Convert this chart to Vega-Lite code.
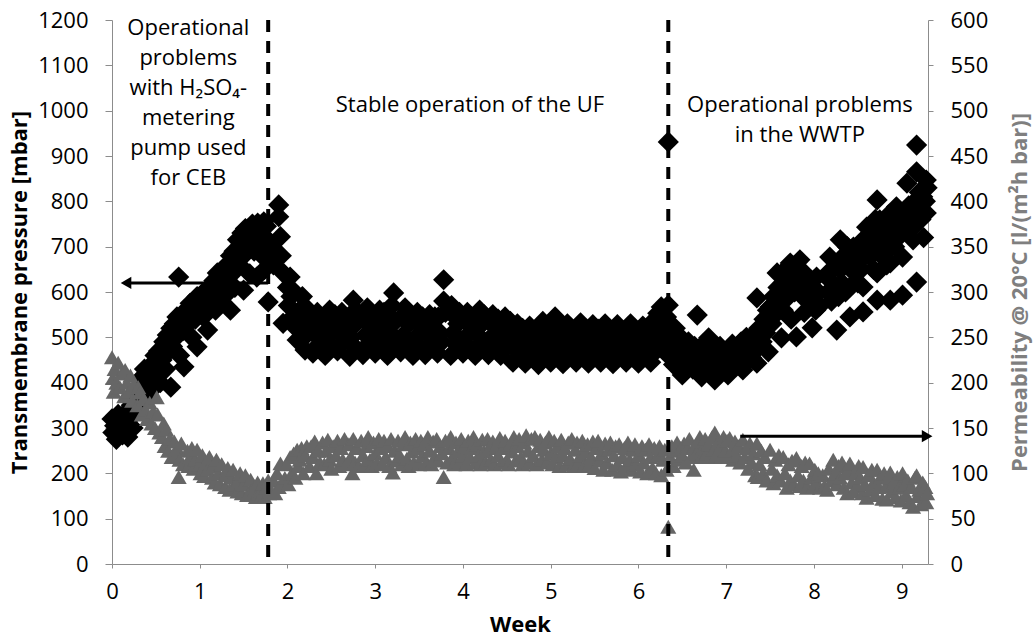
{
"$schema":"https://vega.github.io/schema/vega-lite/v6.json",
"width":816,"height":544,
"autosize":{"type":"none"},
"padding":{"left":112,"top":20,"right":107,"bottom":74},
"background":"white",
"config":{"view":{"stroke":null},"font":"Open Sans","axis":{"grid":false,"domainColor":"#8c8c8c","tickColor":"#8c8c8c","labelFont":"Open Sans","titleFont":"Open Sans","labelColor":"#000000","titleColor":"#000000","labelFontSize":22,"titleFontSize":22,"titleFontWeight":"bold"}},
"datasets":{
"tmp":[
{"w":0,"t":320},{"w":0.01,"t":290},{"w":0.03,"t":305},{"w":0.05,"t":275},{"w":0.07,"t":330},{"w":0.09,"t":295},{"w":0.11,"t":315},{"w":0.12,"t":285},
{"w":0.14,"t":300},{"w":0.16,"t":335},{"w":0.18,"t":280},{"w":0.2,"t":320},{"w":0.22,"t":350},{"w":0.24,"t":300},{"w":0.26,"t":365},
{"w":0.29,"t":340},{"w":0.31,"t":380},{"w":0.33,"t":410},{"w":0.35,"t":360},{"w":0.37,"t":430},{"w":0.39,"t":395},{"w":0.41,"t":420},
{"w":0.43,"t":380},{"w":0.45,"t":440},{"w":0.47,"t":410},{"w":0.49,"t":460},{"w":0.51,"t":430},{"w":0.53,"t":470},{"w":0.55,"t":400},
{"w":0.57,"t":450},{"w":0.59,"t":490},{"w":0.61,"t":430},{"w":0.63,"t":505},{"w":0.65,"t":470},{"w":0.67,"t":390},{"w":0.67,"t":520},{"w":0.69,"t":480},
{"w":0.71,"t":530},{"w":0.73,"t":500},{"w":0.74,"t":545},{"w":0.76,"t":633},{"w":0.77,"t":460},{"w":0.79,"t":550},{"w":0.81,"t":515},{"w":0.82,"t":435},
{"w":0.86,"t":560},{"w":0.87,"t":530},{"w":0.89,"t":575},{"w":0.91,"t":500},{"w":0.93,"t":560},{"w":0.95,"t":540},{"w":0.97,"t":479},{"w":0.97,"t":590},
{"w":1.0,"t":570},{"w":1.02,"t":595},{"w":1.04,"t":545},{"w":1.06,"t":600},{"w":1.08,"t":580},{"w":1.09,"t":516},{"w":1.11,"t":610},
{"w":1.14,"t":590},{"w":1.16,"t":625},{"w":1.18,"t":560},{"w":1.2,"t":642},{"w":1.22,"t":610},{"w":1.24,"t":580},{"w":1.26,"t":650},
{"w":1.29,"t":620},{"w":1.31,"t":660},{"w":1.33,"t":600},{"w":1.35,"t":560},{"w":1.35,"t":680},{"w":1.37,"t":640},{"w":1.39,"t":690},{"w":1.4,"t":610},
{"w":1.43,"t":715},{"w":1.45,"t":660},{"w":1.46,"t":700},{"w":1.48,"t":730},{"w":1.5,"t":604},{"w":1.5,"t":680},{"w":1.52,"t":740},{"w":1.54,"t":700},
{"w":1.57,"t":640},{"w":1.58,"t":720},{"w":1.6,"t":750},{"w":1.62,"t":690},{"w":1.64,"t":735},{"w":1.65,"t":633},{"w":1.66,"t":752},{"w":1.68,"t":710},
{"w":1.7,"t":740},{"w":1.71,"t":680},{"w":1.73,"t":755},{"w":1.74,"t":650},{"w":1.75,"t":720},{"w":1.76,"t":745},{"w":1.78,"t":578},{"w":1.77,"t":690},
{"w":1.82,"t":700},{"w":1.84,"t":660},{"w":1.9,"t":792},{"w":1.9,"t":766},{"w":1.92,"t":722},{"w":1.93,"t":680},{"w":1.95,"t":531},{"w":1.96,"t":640},
{"w":2.0,"t":610},{"w":2.01,"t":570},{"w":2.03,"t":633},{"w":2.04,"t":590},{"w":2.06,"t":545},{"w":2.08,"t":600},{"w":2.1,"t":520},{"w":2.11,"t":494},
{"w":2.14,"t":560},{"w":2.15,"t":530},{"w":2.17,"t":590},{"w":2.19,"t":500},{"w":2.2,"t":472},{"w":2.22,"t":545},{"w":2.24,"t":560},{"w":2.25,"t":520},
{"w":2.29,"t":465},{"w":2.3,"t":530},{"w":2.32,"t":505},{"w":2.34,"t":555},{"w":2.36,"t":485},{"w":2.38,"t":540},{"w":2.4,"t":520},
{"w":2.43,"t":460},{"w":2.44,"t":545},{"w":2.46,"t":500},{"w":2.48,"t":560},{"w":2.5,"t":480},{"w":2.52,"t":525},{"w":2.54,"t":550},
{"w":2.57,"t":470},{"w":2.58,"t":535},{"w":2.6,"t":510},{"w":2.62,"t":555},{"w":2.64,"t":490},{"w":2.66,"t":540},{"w":2.68,"t":520},
{"w":2.71,"t":458},{"w":2.72,"t":550},{"w":2.73,"t":500},{"w":2.75,"t":582},{"w":2.76,"t":480},{"w":2.78,"t":530},{"w":2.8,"t":555},
{"w":2.86,"t":462},{"w":2.87,"t":540},{"w":2.89,"t":505},{"w":2.91,"t":565},{"w":2.92,"t":485},{"w":2.94,"t":525},{"w":2.96,"t":550},
{"w":3.0,"t":465},{"w":3.01,"t":545},{"w":3.03,"t":500},{"w":3.05,"t":560},{"w":3.06,"t":480},{"w":3.08,"t":530},{"w":3.1,"t":555},
{"w":3.14,"t":460},{"w":3.15,"t":550},{"w":3.17,"t":510},{"w":3.19,"t":570},{"w":3.2,"t":490},{"w":3.21,"t":598},{"w":3.23,"t":535},
{"w":3.29,"t":468},{"w":3.3,"t":545},{"w":3.32,"t":505},{"w":3.34,"t":565},{"w":3.36,"t":485},{"w":3.38,"t":530},{"w":3.4,"t":550},
{"w":3.43,"t":460},{"w":3.44,"t":540},{"w":3.46,"t":500},{"w":3.48,"t":555},{"w":3.5,"t":480},{"w":3.52,"t":525},{"w":3.54,"t":545},
{"w":3.57,"t":462},{"w":3.58,"t":535},{"w":3.6,"t":505},{"w":3.62,"t":550},{"w":3.64,"t":485},{"w":3.66,"t":520},{"w":3.68,"t":545},
{"w":3.71,"t":465},{"w":3.72,"t":545},{"w":3.74,"t":510},{"w":3.78,"t":627},{"w":3.78,"t":580},{"w":3.76,"t":490},{"w":3.8,"t":555},
{"w":3.86,"t":460},{"w":3.87,"t":570},{"w":3.89,"t":510},{"w":3.91,"t":545},{"w":3.92,"t":485},{"w":3.94,"t":530},{"w":3.96,"t":555},
{"w":4.0,"t":465},{"w":4.01,"t":540},{"w":4.03,"t":500},{"w":4.05,"t":555},{"w":4.06,"t":480},{"w":4.08,"t":525},{"w":4.1,"t":545},
{"w":4.14,"t":460},{"w":4.15,"t":545},{"w":4.17,"t":505},{"w":4.19,"t":560},{"w":4.2,"t":485},{"w":4.22,"t":530},{"w":4.24,"t":550},
{"w":4.29,"t":462},{"w":4.3,"t":535},{"w":4.32,"t":500},{"w":4.34,"t":550},{"w":4.36,"t":480},{"w":4.38,"t":520},{"w":4.4,"t":540},
{"w":4.43,"t":460},{"w":4.44,"t":530},{"w":4.46,"t":495},{"w":4.48,"t":545},{"w":4.5,"t":480},{"w":4.52,"t":515},{"w":4.54,"t":535},
{"w":4.57,"t":445},{"w":4.58,"t":510},{"w":4.6,"t":480},{"w":4.62,"t":530},{"w":4.64,"t":465},{"w":4.66,"t":500},{"w":4.68,"t":520},
{"w":4.71,"t":443},{"w":4.72,"t":515},{"w":4.74,"t":475},{"w":4.76,"t":525},{"w":4.78,"t":460},{"w":4.8,"t":495},{"w":4.82,"t":510},
{"w":4.86,"t":440},{"w":4.87,"t":520},{"w":4.89,"t":480},{"w":4.91,"t":535},{"w":4.92,"t":462},{"w":4.94,"t":500},{"w":4.96,"t":515},
{"w":5.0,"t":445},{"w":5.01,"t":510},{"w":5.03,"t":478},{"w":5.05,"t":545},{"w":5.06,"t":460},{"w":5.08,"t":495},{"w":5.1,"t":520},
{"w":5.14,"t":442},{"w":5.15,"t":515},{"w":5.17,"t":480},{"w":5.19,"t":530},{"w":5.2,"t":465},{"w":5.22,"t":500},{"w":5.24,"t":512},
{"w":5.29,"t":445},{"w":5.3,"t":520},{"w":5.32,"t":482},{"w":5.34,"t":532},{"w":5.36,"t":462},{"w":5.38,"t":498},{"w":5.4,"t":515},
{"w":5.43,"t":443},{"w":5.44,"t":512},{"w":5.46,"t":478},{"w":5.48,"t":528},{"w":5.5,"t":460},{"w":5.52,"t":495},{"w":5.54,"t":518},
{"w":5.57,"t":445},{"w":5.58,"t":515},{"w":5.6,"t":480},{"w":5.62,"t":530},{"w":5.64,"t":465},{"w":5.66,"t":500},{"w":5.68,"t":512},
{"w":5.71,"t":442},{"w":5.72,"t":518},{"w":5.74,"t":478},{"w":5.76,"t":528},{"w":5.78,"t":462},{"w":5.8,"t":498},{"w":5.82,"t":515},
{"w":5.86,"t":445},{"w":5.87,"t":512},{"w":5.89,"t":480},{"w":5.91,"t":530},{"w":5.92,"t":465},{"w":5.94,"t":500},{"w":5.96,"t":515},
{"w":6.0,"t":443},{"w":6.01,"t":515},{"w":6.03,"t":478},{"w":6.05,"t":525},{"w":6.06,"t":460},{"w":6.08,"t":500},{"w":6.1,"t":518},
{"w":6.14,"t":445},{"w":6.15,"t":520},{"w":6.17,"t":485},{"w":6.19,"t":540},{"w":6.2,"t":470},{"w":6.22,"t":553},{"w":6.24,"t":510},
{"w":6.26,"t":567},{"w":6.27,"t":495},{"w":6.29,"t":530},{"w":6.3,"t":480},{"w":6.32,"t":545},{"w":6.34,"t":931},{"w":6.34,"t":571},{"w":6.34,"t":460},
{"w":6.36,"t":500},{"w":6.38,"t":470},{"w":6.4,"t":440},{"w":6.42,"t":520},{"w":6.44,"t":485},{"w":6.46,"t":455},{"w":6.48,"t":500},{"w":6.5,"t":417},
{"w":6.53,"t":470},{"w":6.55,"t":445},{"w":6.57,"t":490},{"w":6.6,"t":460},{"w":6.62,"t":430},{"w":6.64,"t":480},{"w":6.67,"t":549},{"w":6.66,"t":450},
{"w":6.69,"t":470},{"w":6.71,"t":440},{"w":6.72,"t":413},{"w":6.74,"t":485},{"w":6.76,"t":455},{"w":6.78,"t":430},{"w":6.8,"t":499},{"w":6.82,"t":465},
{"w":6.84,"t":440},{"w":6.86,"t":475},{"w":6.87,"t":406},{"w":6.89,"t":455},{"w":6.91,"t":430},{"w":6.93,"t":480},{"w":6.95,"t":445},{"w":6.97,"t":465},
{"w":6.99,"t":440},{"w":7.02,"t":417},{"w":7.03,"t":470},{"w":7.05,"t":450},{"w":7.07,"t":485},{"w":7.09,"t":435},{"w":7.11,"t":460},
{"w":7.13,"t":475},{"w":7.15,"t":445},{"w":7.17,"t":490},{"w":7.19,"t":428},{"w":7.21,"t":465},{"w":7.23,"t":500},{"w":7.25,"t":450},
{"w":7.27,"t":480},{"w":7.29,"t":455},{"w":7.31,"t":505},{"w":7.33,"t":470},{"w":7.35,"t":443},{"w":7.35,"t":587},{"w":7.37,"t":520},{"w":7.39,"t":516},
{"w":7.41,"t":490},{"w":7.43,"t":540},{"w":7.45,"t":510},{"w":7.47,"t":560},{"w":7.48,"t":468},{"w":7.5,"t":567},{"w":7.52,"t":530},{"w":7.54,"t":590},
{"w":7.56,"t":550},{"w":7.58,"t":642},{"w":7.59,"t":610},{"w":7.61,"t":580},{"w":7.63,"t":499},{"w":7.63,"t":640},{"w":7.65,"t":560},{"w":7.66,"t":600},
{"w":7.68,"t":650},{"w":7.7,"t":620},{"w":7.71,"t":590},{"w":7.73,"t":664},{"w":7.74,"t":540},{"w":7.76,"t":630},{"w":7.78,"t":600},{"w":7.8,"t":501},
{"w":7.82,"t":650},{"w":7.84,"t":671},{"w":7.85,"t":620},{"w":7.87,"t":590},{"w":7.89,"t":555},{"w":7.9,"t":640},{"w":7.92,"t":633},{"w":7.94,"t":610},
{"w":7.96,"t":580},{"w":7.98,"t":521},{"w":8.0,"t":589},{"w":8.02,"t":560},{"w":8.03,"t":633},{"w":8.05,"t":600},{"w":8.07,"t":570},
{"w":8.15,"t":640},{"w":8.16,"t":600},{"w":8.18,"t":677},{"w":8.18,"t":626},{"w":8.2,"t":580},{"w":8.22,"t":650},{"w":8.24,"t":610},{"w":8.26,"t":516},
{"w":8.27,"t":660},{"w":8.28,"t":590},{"w":8.3,"t":715},{"w":8.3,"t":649},{"w":8.32,"t":620},{"w":8.34,"t":680},{"w":8.36,"t":600},{"w":8.38,"t":700},
{"w":8.41,"t":545},{"w":8.41,"t":611},{"w":8.43,"t":660},{"w":8.45,"t":699},{"w":8.47,"t":640},{"w":8.49,"t":671},{"w":8.5,"t":620},{"w":8.52,"t":690},
{"w":8.54,"t":650},{"w":8.56,"t":556},{"w":8.56,"t":611},{"w":8.56,"t":715},{"w":8.58,"t":680},{"w":8.6,"t":743},{"w":8.62,"t":700},{"w":8.64,"t":677},
{"w":8.66,"t":720},{"w":8.68,"t":650},{"w":8.7,"t":760},{"w":8.72,"t":582},{"w":8.72,"t":642},{"w":8.72,"t":803},{"w":8.74,"t":700},{"w":8.75,"t":759},
{"w":8.77,"t":680},{"w":8.79,"t":737},{"w":8.81,"t":720},{"w":8.83,"t":660},{"w":8.85,"t":770},{"w":8.87,"t":582},{"w":8.87,"t":664},{"w":8.87,"t":699},
{"w":8.9,"t":740},{"w":8.92,"t":700},{"w":8.94,"t":788},{"w":8.96,"t":720},{"w":8.98,"t":752},{"w":9.01,"t":593},{"w":9.01,"t":677},{"w":9.02,"t":760},
{"w":9.04,"t":740},{"w":9.06,"t":840},{"w":9.08,"t":790},{"w":9.1,"t":781},{"w":9.12,"t":740},{"w":9.13,"t":715},{"w":9.15,"t":800},{"w":9.17,"t":622},{"w":9.17,"t":865},{"w":9.17,"t":924},
{"w":9.19,"t":780},{"w":9.2,"t":820},{"w":9.22,"t":760},{"w":9.24,"t":810},{"w":9.25,"t":720},{"w":9.27,"t":800},{"w":9.28,"t":774},{"w":9.28,"t":847},{"w":9.29,"t":830}
],
"perm":[
{"w":0,"p":228},{"w":0.01,"p":205},{"w":0.02,"p":190},{"w":0.03,"p":215},{"w":0.05,"p":200},{"w":0.07,"p":222},{"w":0.09,"p":195},{"w":0.11,"p":210},
{"w":0.14,"p":185},{"w":0.15,"p":214},{"w":0.17,"p":200},{"w":0.19,"p":190},{"w":0.21,"p":208},{"w":0.23,"p":180},{"w":0.25,"p":198},
{"w":0.29,"p":175},{"w":0.3,"p":195},{"w":0.32,"p":189},{"w":0.34,"p":165},{"w":0.36,"p":182},{"w":0.38,"p":170},{"w":0.4,"p":160},
{"w":0.43,"p":178},{"w":0.45,"p":155},{"w":0.47,"p":168},{"w":0.49,"p":150},{"w":0.51,"p":184},{"w":0.52,"p":165},{"w":0.54,"p":145},
{"w":0.57,"p":140},{"w":0.59,"p":155},{"w":0.6,"p":130},{"w":0.62,"p":148},{"w":0.64,"p":125},{"w":0.66,"p":138},{"w":0.68,"p":118},
{"w":0.71,"p":135},{"w":0.73,"p":120},{"w":0.74,"p":128},{"w":0.76,"p":96},{"w":0.77,"p":115},{"w":0.79,"p":133},{"w":0.81,"p":110},
{"w":0.86,"p":125},{"w":0.87,"p":108},{"w":0.89,"p":118},{"w":0.91,"p":128},{"w":0.93,"p":105},{"w":0.95,"p":115},{"w":0.97,"p":126},
{"w":1.0,"p":110},{"w":1.01,"p":100},{"w":1.03,"p":120},{"w":1.05,"p":97},{"w":1.07,"p":112},{"w":1.09,"p":104},{"w":1.11,"p":118},
{"w":1.14,"p":95},{"w":1.15,"p":108},{"w":1.17,"p":90},{"w":1.19,"p":115},{"w":1.21,"p":100},{"w":1.23,"p":88},{"w":1.25,"p":110},
{"w":1.29,"p":85},{"w":1.3,"p":98},{"w":1.32,"p":106},{"w":1.34,"p":82},{"w":1.36,"p":95},{"w":1.38,"p":104},{"w":1.4,"p":88},
{"w":1.43,"p":80},{"w":1.44,"p":92},{"w":1.46,"p":100},{"w":1.48,"p":78},{"w":1.5,"p":88},{"w":1.52,"p":98},{"w":1.54,"p":76},
{"w":1.57,"p":80},{"w":1.58,"p":93},{"w":1.6,"p":76},{"w":1.62,"p":86},{"w":1.64,"p":74},{"w":1.66,"p":90},{"w":1.68,"p":78},
{"w":1.71,"p":76},{"w":1.72,"p":89},{"w":1.74,"p":74},{"w":1.76,"p":84},{"w":1.78,"p":92},{"w":1.79,"p":78},
{"w":1.82,"p":80},{"w":1.84,"p":92},{"w":1.86,"p":78},{"w":1.88,"p":100},{"w":1.9,"p":85},{"w":1.92,"p":111},{"w":1.94,"p":90},
{"w":1.97,"p":95},{"w":1.99,"p":110},{"w":2.01,"p":88},{"w":2.03,"p":118},{"w":2.05,"p":100},{"w":2.07,"p":122},{"w":2.09,"p":95},
{"w":2.11,"p":126},{"w":2.12,"p":108},{"w":2.14,"p":115},{"w":2.16,"p":128},{"w":2.18,"p":100},{"w":2.2,"p":120},{"w":2.22,"p":130},
{"w":2.25,"p":108},{"w":2.27,"p":130},{"w":2.29,"p":118},{"w":2.31,"p":135},{"w":2.33,"p":100},{"w":2.35,"p":125},{"w":2.37,"p":112},
{"w":2.4,"p":134},{"w":2.42,"p":110},{"w":2.44,"p":125},{"w":2.46,"p":137},{"w":2.48,"p":115},{"w":2.5,"p":105},{"w":2.52,"p":130},
{"w":2.55,"p":120},{"w":2.57,"p":136},{"w":2.59,"p":108},{"w":2.61,"p":128},{"w":2.63,"p":115},{"w":2.65,"p":138},{"w":2.67,"p":110},
{"w":2.7,"p":132},{"w":2.72,"p":118},{"w":2.74,"p":100},{"w":2.75,"p":138},{"w":2.77,"p":112},{"w":2.79,"p":128},{"w":2.81,"p":108},
{"w":2.84,"p":136},{"w":2.86,"p":120},{"w":2.88,"p":110},{"w":2.9,"p":130},{"w":2.92,"p":140},{"w":2.94,"p":115},{"w":2.96,"p":108},
{"w":2.98,"p":134},{"w":3.0,"p":122},{"w":3.02,"p":112},{"w":3.04,"p":138},{"w":3.06,"p":128},{"w":3.08,"p":110},{"w":3.1,"p":136},
{"w":3.12,"p":118},{"w":3.14,"p":130},{"w":3.16,"p":108},{"w":3.18,"p":138},{"w":3.2,"p":101},{"w":3.22,"p":125},{"w":3.24,"p":114},
{"w":3.26,"p":136},{"w":3.28,"p":120},{"w":3.3,"p":110},{"w":3.32,"p":132},{"w":3.34,"p":140},{"w":3.36,"p":116},{"w":3.38,"p":108},
{"w":3.4,"p":134},{"w":3.42,"p":124},{"w":3.44,"p":112},{"w":3.46,"p":138},{"w":3.48,"p":128},{"w":3.5,"p":110},{"w":3.52,"p":136},
{"w":3.54,"p":120},{"w":3.56,"p":132},{"w":3.58,"p":112},{"w":3.6,"p":140},{"w":3.62,"p":125},{"w":3.64,"p":110},{"w":3.66,"p":135},
{"w":3.68,"p":118},{"w":3.7,"p":138},{"w":3.72,"p":114},{"w":3.74,"p":130},{"w":3.76,"p":122},{"w":3.78,"p":96},{"w":3.8,"p":136},
{"w":3.82,"p":112},{"w":3.84,"p":128},{"w":3.86,"p":140},{"w":3.88,"p":118},{"w":3.9,"p":110},{"w":3.92,"p":134},{"w":3.94,"p":124},
{"w":3.96,"p":112},{"w":3.98,"p":138},{"w":4.0,"p":120},{"w":4.02,"p":130},{"w":4.04,"p":110},{"w":4.06,"p":136},{"w":4.08,"p":118},
{"w":4.1,"p":128},{"w":4.12,"p":140},{"w":4.14,"p":112},{"w":4.16,"p":132},{"w":4.18,"p":120},{"w":4.2,"p":110},{"w":4.22,"p":137},
{"w":4.24,"p":124},{"w":4.26,"p":112},{"w":4.28,"p":138},{"w":4.3,"p":128},{"w":4.32,"p":115},{"w":4.34,"p":135},{"w":4.36,"p":110},
{"w":4.38,"p":130},{"w":4.4,"p":120},{"w":4.42,"p":139},{"w":4.44,"p":112},{"w":4.46,"p":128},{"w":4.48,"p":136},{"w":4.5,"p":115},
{"w":4.52,"p":110},{"w":4.54,"p":132},{"w":4.56,"p":124},{"w":4.58,"p":140},{"w":4.6,"p":114},{"w":4.62,"p":130},{"w":4.64,"p":138},
{"w":4.66,"p":118},{"w":4.68,"p":110},{"w":4.7,"p":134},{"w":4.72,"p":142},{"w":4.74,"p":125},{"w":4.76,"p":112},{"w":4.78,"p":138},
{"w":4.8,"p":120},{"w":4.82,"p":140},{"w":4.84,"p":110},{"w":4.86,"p":130},{"w":4.88,"p":137},{"w":4.9,"p":115},{"w":4.92,"p":126},
{"w":4.94,"p":134},{"w":4.96,"p":112},{"w":4.98,"p":140},{"w":5.0,"p":122},{"w":5.02,"p":110},{"w":5.04,"p":136},{"w":5.06,"p":118},
{"w":5.08,"p":130},{"w":5.1,"p":108},{"w":5.12,"p":137},{"w":5.14,"p":120},{"w":5.16,"p":128},{"w":5.18,"p":110},{"w":5.2,"p":134},
{"w":5.22,"p":116},{"w":5.24,"p":138},{"w":5.26,"p":108},{"w":5.28,"p":126},{"w":5.3,"p":134},{"w":5.32,"p":112},{"w":5.34,"p":120},
{"w":5.36,"p":136},{"w":5.38,"p":108},{"w":5.4,"p":124},{"w":5.42,"p":132},{"w":5.44,"p":110},{"w":5.46,"p":118},{"w":5.48,"p":135},
{"w":5.5,"p":106},{"w":5.52,"p":128},{"w":5.54,"p":136},{"w":5.56,"p":114},{"w":5.58,"p":122},{"w":5.6,"p":104},{"w":5.62,"p":133},
{"w":5.64,"p":112},{"w":5.66,"p":126},{"w":5.68,"p":134},{"w":5.7,"p":104},{"w":5.72,"p":120},{"w":5.74,"p":130},{"w":5.76,"p":110},
{"w":5.78,"p":132},{"w":5.8,"p":102},{"w":5.82,"p":118},{"w":5.84,"p":128},{"w":5.86,"p":108},{"w":5.88,"p":134},{"w":5.9,"p":115},
{"w":5.92,"p":104},{"w":5.94,"p":126},{"w":5.96,"p":132},{"w":5.98,"p":110},{"w":6.0,"p":120},{"w":6.02,"p":102},{"w":6.04,"p":130},
{"w":6.06,"p":112},{"w":6.08,"p":126},{"w":6.1,"p":100},{"w":6.12,"p":132},{"w":6.14,"p":118},{"w":6.16,"p":106},{"w":6.18,"p":128},
{"w":6.2,"p":100},{"w":6.22,"p":120},{"w":6.24,"p":130},{"w":6.26,"p":98},{"w":6.28,"p":115},{"w":6.3,"p":126},{"w":6.32,"p":104},{"w":6.34,"p":41},
{"w":6.36,"p":118},{"w":6.38,"p":130},{"w":6.4,"p":108},{"w":6.42,"p":125},{"w":6.44,"p":134},{"w":6.46,"p":115},{"w":6.48,"p":128},
{"w":6.5,"p":120},{"w":6.52,"p":133},{"w":6.54,"p":112},{"w":6.56,"p":128},{"w":6.58,"p":138},{"w":6.6,"p":118},{"w":6.63,"p":104},{"w":6.64,"p":130},
{"w":6.66,"p":122},{"w":6.68,"p":135},{"w":6.7,"p":140},{"w":6.72,"p":118},{"w":6.74,"p":128},{"w":6.76,"p":138},{"w":6.78,"p":122},
{"w":6.8,"p":132},{"w":6.82,"p":118},{"w":6.84,"p":140},{"w":6.86,"p":126},{"w":6.87,"p":145},{"w":6.89,"p":120},{"w":6.91,"p":135},
{"w":6.93,"p":128},{"w":6.95,"p":118},{"w":6.97,"p":140},{"w":6.99,"p":125},{"w":7.01,"p":136},{"w":7.03,"p":118},{"w":7.04,"p":139},
{"w":7.06,"p":125},{"w":7.08,"p":115},{"w":7.1,"p":135},{"w":7.12,"p":120},{"w":7.14,"p":130},{"w":7.16,"p":112},{"w":7.19,"p":137},
{"w":7.21,"p":118},{"w":7.23,"p":128},{"w":7.25,"p":105},{"w":7.27,"p":133},{"w":7.29,"p":112},{"w":7.31,"p":122},{"w":7.33,"p":98},
{"w":7.35,"p":133},{"w":7.36,"p":96},{"w":7.38,"p":110},{"w":7.4,"p":125},{"w":7.42,"p":100},{"w":7.44,"p":118},{"w":7.46,"p":92},
{"w":7.5,"p":126},{"w":7.52,"p":105},{"w":7.54,"p":89},{"w":7.56,"p":115},{"w":7.58,"p":98},{"w":7.6,"p":120},{"w":7.62,"p":92},
{"w":7.65,"p":118},{"w":7.67,"p":100},{"w":7.69,"p":84},{"w":7.71,"p":110},{"w":7.73,"p":92},{"w":7.75,"p":114},{"w":7.77,"p":88},
{"w":7.8,"p":117},{"w":7.82,"p":98},{"w":7.84,"p":86},{"w":7.86,"p":108},{"w":7.88,"p":92},{"w":7.9,"p":112},{"w":7.92,"p":84},
{"w":7.95,"p":111},{"w":7.97,"p":95},{"w":7.99,"p":85},{"w":8.01,"p":104},{"w":8.03,"p":90},{"w":8.05,"p":100},{"w":8.07,"p":84},
{"w":8.1,"p":98},{"w":8.12,"p":86},{"w":8.15,"p":82},{"w":8.17,"p":105},{"w":8.2,"p":92},{"w":8.22,"p":115},{"w":8.24,"p":100},
{"w":8.26,"p":88},{"w":8.28,"p":108},{"w":8.3,"p":95},{"w":8.32,"p":112},{"w":8.34,"p":84},{"w":8.36,"p":100},{"w":8.38,"p":78},
{"w":8.4,"p":106},{"w":8.41,"p":111},{"w":8.43,"p":90},{"w":8.45,"p":80},{"w":8.47,"p":100},{"w":8.49,"p":86},{"w":8.51,"p":108},
{"w":8.53,"p":95},{"w":8.55,"p":78},{"w":8.56,"p":107},{"w":8.58,"p":88},{"w":8.6,"p":73},{"w":8.62,"p":98},{"w":8.64,"p":82},
{"w":8.66,"p":104},{"w":8.68,"p":90},{"w":8.7,"p":76},{"w":8.72,"p":104},{"w":8.74,"p":85},{"w":8.76,"p":96},{"w":8.78,"p":72},
{"w":8.8,"p":100},{"w":8.82,"p":86},{"w":8.83,"p":71},{"w":8.85,"p":95},{"w":8.87,"p":101},{"w":8.89,"p":80},{"w":8.91,"p":90},
{"w":8.93,"p":74},{"w":8.95,"p":96},{"w":8.97,"p":84},{"w":8.99,"p":70},{"w":9.01,"p":100},{"w":9.03,"p":88},{"w":9.05,"p":76},
{"w":9.07,"p":92},{"w":9.09,"p":68},{"w":9.11,"p":85},{"w":9.13,"p":63},{"w":9.15,"p":95},{"w":9.17,"p":98},{"w":9.18,"p":75},
{"w":9.2,"p":82},{"w":9.22,"p":66},{"w":9.24,"p":90},{"w":9.26,"p":70},{"w":9.27,"p":85},{"w":9.28,"p":68},{"w":9.29,"p":78}
],
"events":[{"w":1.78},{"w":6.34}],
"notes":[
{"w":0.87,"t":1182,"label":"Operational\nproblems\nwith H₂SO₄-\nmetering\npump used\nfor CEB"},
{"w":4.08,"t":1013,"label":"Stable operation of the UF"},
{"w":7.84,"t":1013,"label":"Operational problems\nin the WWTP"}
],
"arrowL":[{"w":1.78,"x2":0.16,"t":620}],
"arrowR":[{"w":7.16,"x2":9.29,"p":141}]
},
"layer":[
{"data":{"name":"tmp"},"mark":{"type":"point","shape":"diamond","filled":true,"size":450,"color":"#000000","opacity":1},
"encoding":{
"x":{"field":"w","type":"quantitative","scale":{"domain":[0,9.3],"nice":false,"zero":false},
"axis":{"title":"Week","values":[0,1,2,3,4,5,6,7,8,9],"format":"d","tickSize":4,"labelPadding":13,"titlePadding":12,"labelFlush":false,"labelAngle":0}},
"y":{"field":"t","type":"quantitative","scale":{"domain":[0,1200],"nice":false},
"axis":{"title":"Transmembrane pressure [mbar]","orient":"left","format":"d","values":[0,100,200,300,400,500,600,700,800,900,1000,1100,1200],"tickSize":7,"labelPadding":17,"titlePadding":6}}}},
{"data":{"name":"perm"},"mark":{"type":"point","shape":"triangle-up","filled":true,"size":260,"color":"#666666","opacity":1},
"encoding":{
"x":{"field":"w","type":"quantitative","title":"Week"},
"y":{"field":"p","type":"quantitative","scale":{"domain":[0,600],"nice":false},
"axis":{"title":"Permeability @ 20°C  [l/(m²h bar)]","orient":"right","format":"d","values":[0,50,100,150,200,250,300,350,400,450,500,550,600],"tickSize":5,"labelPadding":17,"titlePadding":22,"titleAngle":-90,"titleBaseline":"top","titleColor":"#7f7f7f"}}}},
{"data":{"name":"events"},"mark":{"type":"rule","strokeDash":[12,9],"strokeWidth":4,"color":"#000000"},
"encoding":{"x":{"field":"w","type":"quantitative","title":"Week"},"y":{"datum":1200,"type":"quantitative","scale":{"domain":[0,1200],"nice":false},"axis":null},"y2":{"datum":15}}},
{"data":{"name":"arrowL"},"mark":{"type":"rule","strokeWidth":3,"color":"#000000"},
"encoding":{"x":{"field":"w","type":"quantitative","title":"Week"},"x2":{"field":"x2"},"y":{"field":"t","type":"quantitative","scale":{"domain":[0,1200],"nice":false},"axis":null}}},
{"data":{"name":"arrowL"},"mark":{"type":"point","shape":"triangle-left","filled":true,"size":150,"color":"#000000","opacity":1},
"encoding":{"x":{"field":"x2","type":"quantitative","title":"Week"},"y":{"field":"t","type":"quantitative","scale":{"domain":[0,1200],"nice":false},"axis":null}}},
{"data":{"name":"notes"},"mark":{"type":"text","lineBreak":"\n","lineHeight":30,"fontSize":22,"font":"Open Sans","align":"center","baseline":"middle","color":"#000000"},
"encoding":{"x":{"field":"w","type":"quantitative","title":"Week"},"y":{"field":"t","type":"quantitative","scale":{"domain":[0,1200],"nice":false},"axis":null},"text":{"field":"label"}}},
{"data":{"name":"arrowR"},"mark":{"type":"rule","strokeWidth":3,"color":"#000000"},
"encoding":{"x":{"field":"w","type":"quantitative","title":"Week"},"x2":{"field":"x2"},"y":{"field":"p","type":"quantitative","scale":{"domain":[0,600],"nice":false},"axis":null}}},
{"data":{"name":"arrowR"},"mark":{"type":"point","shape":"triangle-right","filled":true,"size":150,"color":"#000000","opacity":1},
"encoding":{"x":{"field":"x2","type":"quantitative","title":"Week"},"y":{"field":"p","type":"quantitative","scale":{"domain":[0,600],"nice":false},"axis":null}}}
],
"resolve":{"scale":{"y":"independent"}}
}
